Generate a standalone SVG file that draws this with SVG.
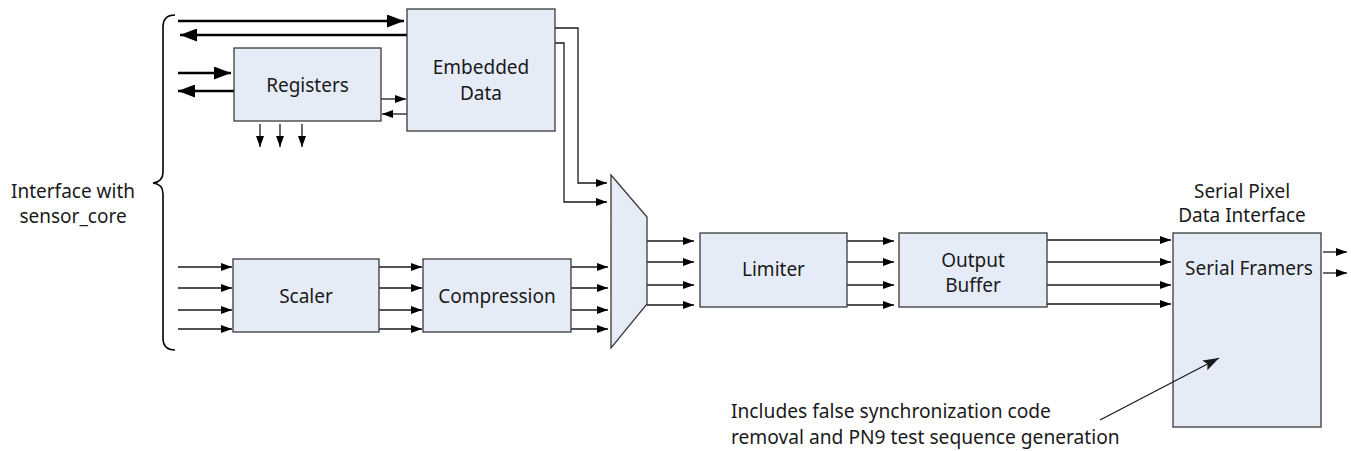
<svg xmlns="http://www.w3.org/2000/svg" width="1351" height="451" viewBox="0 0 1351 451">
<style>
.box{fill:#e6ecf7;stroke:#3a3a3a;stroke-width:1.3}
.t{font-family:"Noto Sans","Open Sans",sans-serif;font-size:19px;fill:#1a1a1a;text-anchor:middle}
.ta{font-family:"Noto Sans","Open Sans",sans-serif;font-size:19.2px;fill:#1a1a1a}
.w{fill:none;stroke:#1a1a1a;stroke-width:1.3}
.thick{fill:none;stroke:#000;stroke-width:2.6}
</style>
<defs>
<marker id="a" markerUnits="userSpaceOnUse" markerWidth="11" markerHeight="8" refX="11" refY="4" orient="auto"><path d="M0,0 L11,4 L0,8 z" fill="#000"/></marker>
<marker id="A" markerUnits="userSpaceOnUse" markerWidth="17" markerHeight="13" refX="17" refY="6.5" orient="auto"><path d="M0,0 L17,6.5 L0,13 z" fill="#000"/></marker>
<marker id="n" markerUnits="userSpaceOnUse" markerWidth="16" markerHeight="11" refX="16" refY="5.5" orient="auto"><path d="M0,0 L16,5.5 L0,11 L3,5.5 z" fill="#1a1a1a"/></marker>
</defs>

<g id="connectors">
<line class="thick" x1="178" y1="21" x2="404" y2="21" marker-end="url(#A)"/>
<line class="thick" x1="407" y1="35" x2="180" y2="35" marker-end="url(#A)"/>
<line class="thick" x1="178" y1="73" x2="231" y2="73" marker-end="url(#A)"/>
<line class="thick" x1="234" y1="91" x2="178" y2="91" marker-end="url(#A)"/>
<line class="w" x1="381" y1="99" x2="406" y2="99" marker-end="url(#a)"/>
<line class="w" x1="407" y1="114" x2="382" y2="114" marker-end="url(#a)"/>
<line class="w" x1="260" y1="124" x2="260" y2="147" marker-end="url(#a)"/>
<line class="w" x1="280" y1="124" x2="280" y2="147" marker-end="url(#a)"/>
<line class="w" x1="302" y1="124" x2="302" y2="147" marker-end="url(#a)"/>
<polyline class="w" points="555,28 578,28 578,183 607,183" marker-end="url(#a)"/>
<polyline class="w" points="555,43 564,43 564,202 607,202" marker-end="url(#a)"/>
<line class="w" x1="178" y1="267" x2="232" y2="267" marker-end="url(#a)"/>
<line class="w" x1="178" y1="288" x2="232" y2="288" marker-end="url(#a)"/>
<line class="w" x1="178" y1="310" x2="232" y2="310" marker-end="url(#a)"/>
<line class="w" x1="178" y1="329" x2="232" y2="329" marker-end="url(#a)"/>
<line class="w" x1="379" y1="267" x2="422" y2="267" marker-end="url(#a)"/>
<line class="w" x1="379" y1="288" x2="422" y2="288" marker-end="url(#a)"/>
<line class="w" x1="379" y1="310" x2="422" y2="310" marker-end="url(#a)"/>
<line class="w" x1="379" y1="329" x2="422" y2="329" marker-end="url(#a)"/>
<line class="w" x1="571" y1="267" x2="608" y2="267" marker-end="url(#a)"/>
<line class="w" x1="571" y1="288" x2="608" y2="288" marker-end="url(#a)"/>
<line class="w" x1="571" y1="310" x2="608" y2="310" marker-end="url(#a)"/>
<line class="w" x1="571" y1="329" x2="608" y2="329" marker-end="url(#a)"/>
<line class="w" x1="647" y1="241" x2="694" y2="241" marker-end="url(#a)"/>
<line class="w" x1="647" y1="262" x2="694" y2="262" marker-end="url(#a)"/>
<line class="w" x1="647" y1="285" x2="694" y2="285" marker-end="url(#a)"/>
<line class="w" x1="647" y1="305" x2="694" y2="305" marker-end="url(#a)"/>
<line class="w" x1="847" y1="241" x2="894" y2="241" marker-end="url(#a)"/>
<line class="w" x1="847" y1="262" x2="894" y2="262" marker-end="url(#a)"/>
<line class="w" x1="847" y1="285" x2="894" y2="285" marker-end="url(#a)"/>
<line class="w" x1="847" y1="305" x2="894" y2="305" marker-end="url(#a)"/>
<line class="w" x1="1047" y1="240" x2="1171" y2="240" marker-end="url(#a)"/>
<line class="w" x1="1047" y1="262" x2="1171" y2="262" marker-end="url(#a)"/>
<line class="w" x1="1047" y1="285" x2="1171" y2="285" marker-end="url(#a)"/>
<line class="w" x1="1047" y1="304" x2="1171" y2="304" marker-end="url(#a)"/>
<line class="w" x1="1323" y1="252" x2="1347" y2="252" marker-end="url(#a)"/>
<line class="w" x1="1323" y1="273" x2="1347" y2="273" marker-end="url(#a)"/>
</g>

<g id="brace">
<path d="M175,15 Q163,15 163,27 L163,172 Q163,182 153,183 Q163,184 163,194 L163,338 Q163,350 175,350" fill="none" stroke="#000" stroke-width="1.6"/>
<text class="t" x="73" y="198">Interface with</text>
<text class="t" x="73" y="223">sensor_core</text>
</g>

<g id="registers">
<rect class="box" x="234" y="48" width="147" height="73"/>
<text class="t" x="307.5" y="92">Registers</text>
</g>

<g id="embedded-data">
<rect class="box" x="407" y="9" width="148" height="122"/>
<text class="t" x="481" y="74">Embedded</text>
<text class="t" x="481" y="100">Data</text>
</g>

<g id="scaler">
<rect class="box" x="233" y="259" width="146" height="73"/>
<text class="t" x="306" y="303">Scaler</text>
</g>

<g id="compression">
<rect class="box" x="423" y="259" width="148" height="73"/>
<text class="t" x="497" y="303">Compression</text>
</g>

<g id="mux">
<polygon class="box" points="611,175 647,217 647,304 611,348"/>
</g>

<g id="limiter">
<rect class="box" x="700" y="233" width="147" height="74"/>
<text class="t" x="773.5" y="276">Limiter</text>
</g>

<g id="output-buffer">
<rect class="box" x="899" y="233" width="148" height="74"/>
<text class="t" x="973" y="267">Output</text>
<text class="t" x="973" y="292">Buffer</text>
</g>

<g id="serial-framers">
<text class="t" x="1242" y="198">Serial Pixel</text>
<text class="t" x="1242" y="222">Data Interface</text>
<rect class="box" x="1173" y="233" width="148" height="194"/>
<text class="t" x="1249" y="275">Serial Framers</text>
</g>

<g id="annotation">
<line class="w" x1="1100" y1="420" x2="1219" y2="358" marker-end="url(#n)"/>
<text class="ta" x="731" y="418">Includes false synchronization code</text>
<text class="ta" x="731" y="444">removal and PN9 test sequence generation</text>
</g>
</svg>
